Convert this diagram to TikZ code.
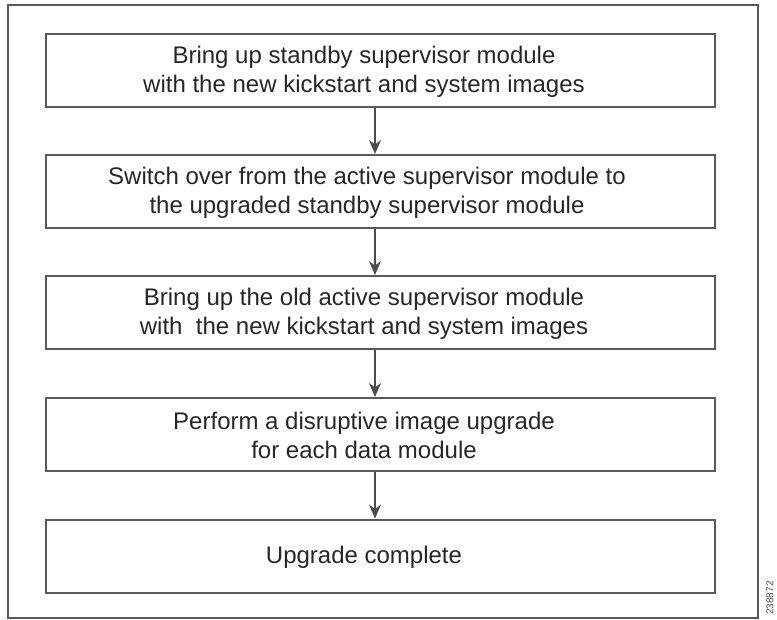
\documentclass[tikz,border=0pt]{standalone}
\usepackage{fontspec}
\setmainfont{Liberation Sans}
\usetikzlibrary{arrows.meta, positioning}

\begin{document}
\begin{tikzpicture}[
    x=0.5pt, y=-0.5pt,
    stepbox/.style={rectangle, draw=black!65, line width=1pt, minimum width=334.5pt,
        minimum height=36.5pt},
    steptext/.style={align=center, font=\fontsize{12}{14.5}\selectfont, text=black!85},
    flow/.style={draw=black!70, line width=0.9pt, -{Stealth[length=7pt, width=6pt]}}
]

% Page size and outer frame
\useasboundingbox (0,0) rectangle (777,620);
\draw[black!65, line width=1pt] (8,5) rectangle (758,618);

% The steps (boxes)
\node[stepbox] (bringup) at (380.5, 71) {};
\node[stepbox] (switch) at (380.5, 191.5) {};
\node[stepbox] (oldsup) at (380.5, 312.5) {};
\node[stepbox] (datamod) at (380.5, 434.5) {};
\node[stepbox] (done) at (380.5, 556) {};

% Texts, set a little left of the box centres
\node[steptext] (bringup-txt) at (364, 72) {Bring up standby supervisor module\\with the new kickstart and system images};
\node[steptext] (switch-txt) at (367, 192.5) {Switch over from the active supervisor module to\\the upgraded standby supervisor module};
\node[steptext] (oldsup-txt) at (364, 313.5) {Bring up the old active supervisor module\\with ~the new kickstart and system images};
\node[steptext] (datamod-txt) at (364, 435.5) {Perform a disruptive image upgrade\\for each data module};
\node[steptext] (done-txt) at (364, 557) {Upgrade complete};

% --- Arrows between the steps ---
\draw[flow] ([xshift=-2.75pt]bringup.south) -- ([xshift=-2.75pt]switch.north);
\draw[flow] ([xshift=-2.75pt]switch.south) -- ([xshift=-2.75pt]oldsup.north);
\draw[flow] ([xshift=-2.75pt]oldsup.south) -- ([xshift=-2.75pt]datamod.north);
\draw[flow] ([xshift=-2.75pt]datamod.south) -- ([xshift=-2.75pt]done.north);

% Figure number at the edge
\node[rotate=90, font=\fontsize{5}{6}\selectfont, text=black!70, inner sep=0pt] (fignum) at (770, 598) {238872};

\end{tikzpicture}
\end{document}
